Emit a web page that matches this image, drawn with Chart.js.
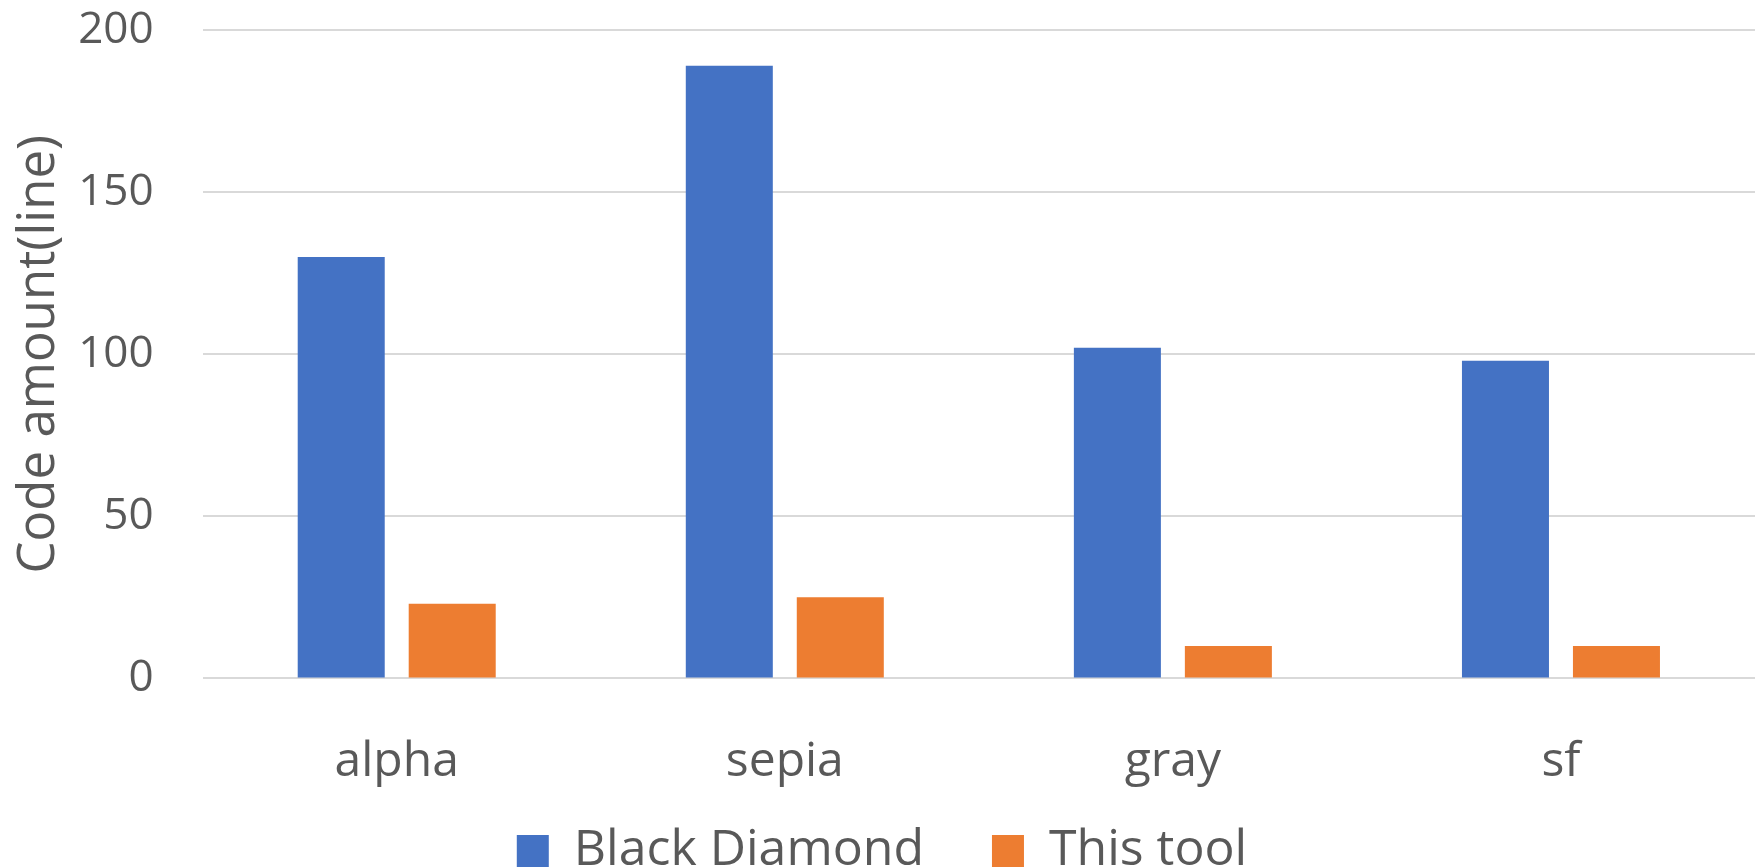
<!DOCTYPE html>
<html>
<head>
<meta charset="utf-8">
<script src="https://cdn.jsdelivr.net/npm/chart.js@4/dist/chart.umd.min.js"></script>
<style>
  html, body { margin: 0; padding: 0; background: #fff; overflow: hidden; }
  #wrap { width: 1762px; height: 868px; overflow: hidden; }
</style>
</head>
<body>
<div id="wrap"><canvas id="chart" width="1762" height="886"></canvas></div>
<script>
const categories = ['alpha', 'sepia', 'gray', 'sf'];
const seriesNames = ['Black Diamond', 'This tool'];
const blackDiamond = [130, 189, 102, 98];
const thisTool = [23, 25, 10, 10];
const yTicks = [0, 50, 100, 150, 200];

const textColor = '#595959';
const fontFamily = "'Open Sans', 'Noto Sans', sans-serif";
const hidden = 'rgba(0,0,0,0)';

const config = {
  type: 'bar',
  data: {
    labels: categories,
    datasets: [
      {
        label: seriesNames[0],
        data: blackDiamond,
        backgroundColor: '#4472C4',
        categoryPercentage: 0.572,
        barPercentage: 0.784,
      },
      {
        label: seriesNames[1],
        data: thisTool,
        backgroundColor: '#ED7D31',
        categoryPercentage: 0.572,
        barPercentage: 0.784,
      },
    ],
  },
  options: {
    responsive: false,
    animation: false,
    devicePixelRatio: 1,
    layout: {
      padding: { left: 9, right: 7, top: 30, bottom: 0 },
    },
    scales: {
      x: {
        // invisible tick marks are used as spacing between plot and labels
        grid: { drawOnChartArea: false, drawTicks: true, tickLength: 36, tickColor: hidden },
        border: { display: false },
        ticks: {
          color: textColor,
          padding: 19,
          font: { family: fontFamily, size: 48 },
        },
      },
      y: {
        min: 0,
        max: 200,
        afterBuildTicks: (axis) => {
          axis.ticks = yTicks.map((v) => ({ value: v }));
        },
        grid: { color: '#D9D9D9', lineWidth: 2, drawTicks: true, tickLength: 49, tickColor: hidden },
        border: { display: false },
        ticks: {
          color: textColor,
          padding: 0,
          font: { family: fontFamily, size: 44 },
        },
        title: {
          display: true,
          text: 'Code amount(line)',
          color: textColor,
          font: { family: fontFamily, size: 51 },
          padding: { top: 0, bottom: 8 },
        },
      },
    },
    plugins: {
      tooltip: { enabled: false },
      legend: {
        position: 'bottom',
        labels: {
          color: textColor,
          boxWidth: 32,
          boxHeight: 32,
          padding: 16,
          font: { family: fontFamily, size: 50 },
          generateLabels: (chart) => {
            const items = Chart.defaults.plugins.legend.labels.generateLabels(chart);
            // widen the gap after the first entry
            items[0].text = items[0].text + '    ';
            return items;
          },
        },
      },
    },
  },
};

const chart = new Chart(document.getElementById('chart'), config);
</script>
</body>
</html>
